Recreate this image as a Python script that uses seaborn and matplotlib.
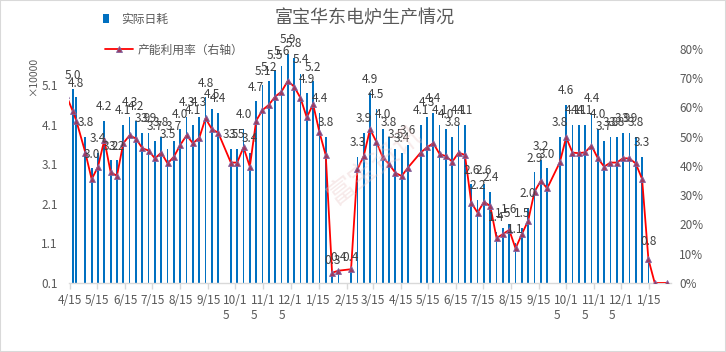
import numpy as np
import pandas as pd
import matplotlib
matplotlib.use('Agg')
import matplotlib.pyplot as plt
import matplotlib.dates as mdates
from matplotlib.patches import Patch, Rectangle
from matplotlib.lines import Line2D
import seaborn as sns

title = '富宝华东电炉生产情况'
bar_name = '实际日耗'
line_name = '产能利用率（右轴）'

# weekly data, daily consumption in 10k t, utilisation in %
dates = ['2019-04-11', '2019-04-18', '2019-04-22', '2019-05-02', '2019-05-09', '2019-05-16', '2019-05-23', '2019-05-30',
         '2019-06-06', '2019-06-13', '2019-06-20', '2019-06-27', '2019-07-04', '2019-07-11', '2019-07-18', '2019-07-25',
         '2019-08-01', '2019-08-08', '2019-08-15', '2019-08-22', '2019-08-29', '2019-09-05', '2019-09-12', '2019-09-19', '2019-09-26',
         '2019-10-10', '2019-10-17', '2019-10-24', '2019-10-31', '2019-11-07', '2019-11-14', '2019-11-21', '2019-11-28',
         '2019-12-05', '2019-12-12', '2019-12-19', '2019-12-26', '2020-01-02', '2020-01-09', '2020-01-16', '2020-01-23',
         '2020-01-30', '2020-02-06', '2020-02-20', '2020-02-27', '2020-03-05', '2020-03-12', '2020-03-19', '2020-03-26',
         '2020-04-02', '2020-04-09', '2020-04-16', '2020-04-23', '2020-05-07', '2020-05-14', '2020-05-21', '2020-05-28',
         '2020-06-04', '2020-06-11', '2020-06-18', '2020-06-25', '2020-07-02', '2020-07-09', '2020-07-16', '2020-07-23', '2020-07-30',
         '2020-08-06', '2020-08-13', '2020-08-20', '2020-08-27', '2020-09-03', '2020-09-10', '2020-09-17', '2020-09-24',
         '2020-10-08', '2020-10-15', '2020-10-22', '2020-10-29', '2020-11-05', '2020-11-12', '2020-11-19', '2020-11-26',
         '2020-12-03', '2020-12-10', '2020-12-17', '2020-12-24', '2020-12-31', '2021-01-07', '2021-01-14', '2021-01-21', '2021-02-04']

daily = [np.nan, 5.0, 4.8, 3.8, 3.0, 3.4, 4.2, 3.2,
         3.2, 4.1, 4.3, 4.2, 3.9, 3.9, 3.7, 3.8,
         3.5, 3.7, 4.0, 4.3, 4.1, 4.3, 4.8, 4.5, 4.4,
         3.5, 3.5, 4.0, 3.4, 4.7, 5.1, 5.2, 5.5,
         5.6, 5.9, 5.8, 5.4, 4.9, 5.2, 4.4, 3.8,
         0.3, 0.4, 0.4, 3.3, 3.9, 4.9, 4.5, 4.0,
         3.8, 3.5, 3.4, 3.6, 4.1, 4.3, 4.4, 4.1,
         4.0, 3.8, 4.1, 4.1, 2.6, 2.2, 2.6, 2.4, 1.4,
         1.5, 1.6, 1.1, 1.5, 2.0, 2.9, 3.2, 3.0,
         3.8, 4.6, 4.1, 4.1, 4.1, 4.4, 4.0, 3.7,
         3.8, 3.8, 3.9, 3.9, 3.8, 3.3, 0.8, np.nan, np.nan]

util = [64.0, 58.7, 55.4, 44.5, 35.4, 39.7, 48.8, 37.8,
        36.6, 47.7, 50.4, 49.3, 46.0, 45.2, 42.5, 44.5,
        40.8, 43.1, 47.1, 50.4, 47.7, 49.5, 56.2, 52.5, 51.3,
        41.1, 41.1, 46.3, 39.7, 55.4, 59.0, 60.8, 63.6,
        65.3, 69.0, 67.0, 63.2, 56.5, 61.0, 51.5, 43.6,
        3.5, 4.2, 4.7, 38.8, 43.3, 52.5, 48.2, 42.9,
        40.6, 37.6, 36.5, 39.4, 44.5, 46.3, 47.7, 44.0,
        43.3, 41.4, 44.5, 43.7, 27.4, 24.0, 27.7, 26.3, 15.3,
        16.7, 18.1, 11.8, 16.7, 21.3, 31.2, 34.9, 32.3,
        41.2, 49.7, 44.5, 44.3, 44.6, 46.9, 42.6, 39.7,
        41.1, 41.1, 42.6, 42.5, 40.8, 35.5, 8.1, 0.0, 0.0]

tick_labels = ['4/15', '5/15', '6/15', '7/15', '8/15', '9/15', '10/1\n5', '11/1\n5', '12/1\n5', '1/15', '2/15',
               '3/15', '4/15', '5/15', '6/15', '7/15', '8/15', '9/15', '10/1\n5', '11/1\n5', '12/1\n5', '1/15']
left_ticks = [0.1, 1.1, 2.1, 3.1, 4.1, 5.1]
right_ticks = [0, 10, 20, 30, 40, 50, 60, 70, 80]

sns.set_theme(style='white')
plt.rcParams['font.family'] = ['Noto Sans CJK SC', 'DejaVu Sans']

df = pd.DataFrame({'date': pd.to_datetime(dates), 'daily': daily, 'util': util})

W, H = 726, 352
fig, ax = plt.subplots(figsize=(W / 100, H / 100), dpi=100)
fig.subplots_adjust(left=69 / W, right=671 / W, bottom=1 - 283 / H, top=1 - 48.6 / H)
ax2 = ax.twinx()

gray = '#595959'
blue = '#0070c0'
red = '#ff0000'
mfc = '#9e3a5e'
mec = '#8064a2'
msize = 4.8

ax.bar(df['date'], df['daily'], width=1.9, color=blue, linewidth=0, zorder=2)
sns.lineplot(data=df, x='date', y='util', ax=ax2, color=red, lw=1.3, marker='^', markersize=msize,
             markerfacecolor=mfc, markeredgecolor=mec, markeredgewidth=0.6)

# data labels of the bars
for d, v in zip(df['date'], df['daily']):
    if pd.notna(v):
        ax2.annotate(f'{v:.1f}', xy=(mdates.date2num(d), v), xycoords=ax.transData,
                     xytext=(0, 5.5), textcoords='offset points', ha='center', va='bottom',
                     fontsize=8.5, color='#404040', annotation_clip=False)

ax.set_xlim(pd.Timestamp('2019-04-13 22:00'), pd.Timestamp('2021-02-08'))
tick_dates = pd.date_range('2019-04-01', '2021-01-01', freq='MS') + pd.Timedelta(days=14)
ax.set_xticks(tick_dates)
ax.set_xticklabels(tick_labels)
for lab in ax.get_xticklabels():
    lab.set_multialignment('left')

ax.set_ylim(0.1, 6.03)
ax.set_yticks(left_ticks)
ax.set_yticklabels([f'{t:.1f}' for t in left_ticks])
ax2.set_ylim(0, 80)
ax2.set_yticks(right_ticks)
ax2.set_yticklabels([f'{t}%' for t in right_ticks])

ax.set_xlabel('')
ax.set_ylabel('')
ax2.set_xlabel('')
ax2.set_ylabel('')

for s in ['top', 'left', 'right']:
    ax.spines[s].set_visible(False)
    ax2.spines[s].set_visible(False)
ax2.spines['bottom'].set_visible(False)
ax.spines['bottom'].set_color('#d9d9d9')
ax.spines['bottom'].set_linewidth(1)

ax.tick_params(axis='x', bottom=True, length=4, width=1, color='#d9d9d9', direction='out', pad=4,
               labelsize=8.5, labelcolor=gray)
ax.tick_params(axis='y', left=False, length=0, pad=8, labelsize=8.5, labelcolor=gray)
ax2.tick_params(axis='y', right=False, length=0, pad=6, labelsize=8.5, labelcolor=gray)

fig.text(365 / W, 1 - 18 / H, title, ha='center', va='center', fontsize=13, color=gray)
fig.text(33 / W, 1 - 76 / H, '×10000', rotation=90, ha='center', va='center', fontsize=7.5, color=gray)

# faint watermark
fig.text(375 / W, 1 - 165 / H, '富宝资讯', rotation=38, ha='center', va='center', fontsize=20,
         color='#e8c4c4', alpha=0.35)

fig.legend(handles=[Patch(facecolor=blue, edgecolor='none', label=bar_name)], loc='center left',
           bbox_to_anchor=(103 / W, 1 - 19 / H), frameon=False, handlelength=0.55, handleheight=0.9,
           handletextpad=1.0, borderpad=0, borderaxespad=0, fontsize=8.5, labelcolor=gray)
fig.legend(handles=[Line2D([], [], color=red, lw=1.3, marker='^', markersize=msize, markerfacecolor=mfc,
                           markeredgecolor=mec, markeredgewidth=0.6, label=line_name)],
           loc='center left', bbox_to_anchor=(105 / W, 1 - 50 / H), frameon=False, handlelength=2.4,
           handletextpad=0.35, borderpad=0, borderaxespad=0, fontsize=8.5, labelcolor=gray)

fig.patches.append(Rectangle((0, 0), 1, 1, transform=fig.transFigure, fill=False,
                             edgecolor='#d9d9d9', lw=1.5))

fig.savefig('out.png', dpi=100)
